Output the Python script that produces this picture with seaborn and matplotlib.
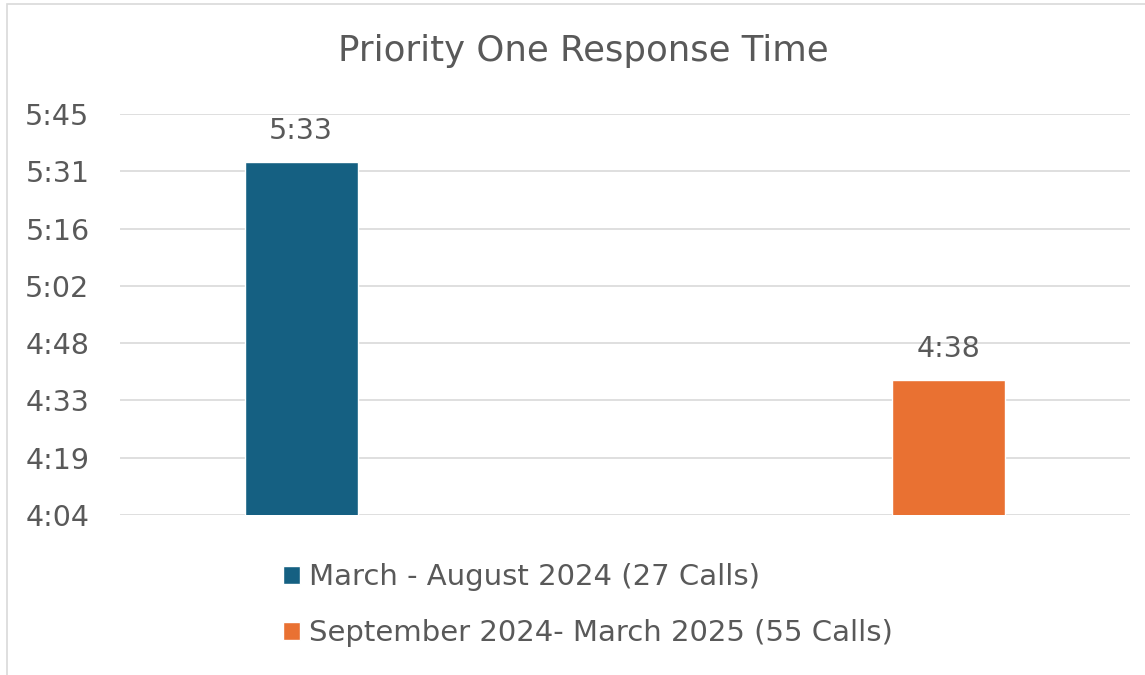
"""Priority One response time bar chart."""

import matplotlib
matplotlib.use("Agg")
import matplotlib.pyplot as plt
import numpy as np
import pandas as pd
import seaborn as sns
from matplotlib.patches import Rectangle

# data (seconds)
PERIODS = ["March - August 2024 (27 Calls)", "September 2024- March 2025 (55 Calls)"]
RESPONSE_SECONDS = [333, 278]
COLORS = ["#156082", "#E97132"]
Y_TICK_LABELS = ["4:04", "4:19", "4:33", "4:48", "5:02", "5:16", "5:31", "5:45"]
Y_MIN, Y_MAX = 244, 345

TEXT = "#595959"
GRID = "#D9D9D9"


def fmt_mmss(sec):
    sec = int(round(sec))
    return f"{sec // 60}:{sec % 60:02d}"


sns.set_theme(style="white")
plt.rcParams["font.family"] = ["DejaVu Sans"]

df = pd.DataFrame({"period": PERIODS, "seconds": RESPONSE_SECONDS})

fig = plt.figure(figsize=(11.45, 6.75), dpi=100)
fig.patches.append(Rectangle((7 / 1145, -0.01), 1.2, 1 - 4 / 675 + 0.01,
                             transform=fig.transFigure, fill=False,
                             edgecolor=GRID, linewidth=1.2))
ax = fig.add_axes([120 / 1145, 160 / 675, 1010 / 1145, 401 / 675])

sns.barplot(data=df, x="period", y="seconds", hue="period",
            palette=COLORS, width=0.175, legend=False, ax=ax,
            saturation=1)

ax.set_ylim(Y_MIN, Y_MAX)
ax.set_xlim(-0.28, 1.281)
ticks = np.linspace(Y_MIN, Y_MAX, len(Y_TICK_LABELS))
ax.set_yticks(ticks)
ax.set_yticklabels(Y_TICK_LABELS)
ax.yaxis.grid(True, color=GRID, linewidth=1.2)
ax.set_axisbelow(True)
ax.set_xticks([])
ax.set_xlabel("")
ax.set_ylabel("")
for s in ax.spines.values():
    s.set_visible(False)
ax.tick_params(axis="y", length=0, pad=22, labelsize=20.5, labelcolor=TEXT)

for cont, v in zip(ax.containers, RESPONSE_SECONDS):
    ax.bar_label(cont, labels=[fmt_mmss(v)], padding=12, fontsize=20.5,
                 color=TEXT)

fig.text(583 / 1145, 1 - 51 / 675, "Priority One Response Time",
         ha="center", va="center", fontsize=25.6, color=TEXT)

handles = [Rectangle((0, 0), 1, 1, facecolor=c) for c in COLORS]
fig.legend(handles, PERIODS, loc="upper left",
           bbox_to_anchor=(257 / 1145, 1 - 537 / 675), frameon=False,
           fontsize=21, labelcolor=TEXT, handlelength=0.58,
           handleheight=0.58, handletextpad=0.3, labelspacing=0.95)

fig.savefig("out.png", dpi=100)
